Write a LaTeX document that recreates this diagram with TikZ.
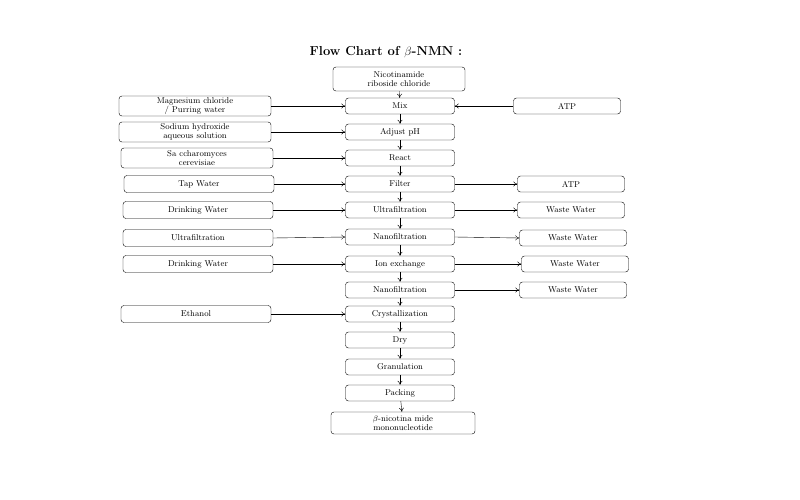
\documentclass[tikz,border=0pt]{standalone}
\usepackage{tikz}
\usetikzlibrary{arrows.meta}
\tikzset{
  stepbox/.style={draw, rounded corners=3pt, minimum width=109pt, minimum height=16pt, inner sep=1pt, align=center, font=\fontsize{8.5}{8.5}\selectfont},
  sidebox/.style={stepbox, minimum width=152pt, minimum height=20pt},
  outbox/.style={stepbox, minimum width=107pt},
  flow/.style={-{To[length=4pt, width=5pt]}, thin}
}
\begin{document}
\begin{tikzpicture}[x=1pt, y=-1pt]
                \useasboundingbox (0, 0) rectangle (800, 500);
                \node [font=\bfseries\fontsize{13}{13}\selectfont] (title) at (386, 52) {Flow Chart of $\beta$-NMN :};
                % main column
                \node [stepbox, minimum width=132pt, minimum height=24pt] (nrc) at (399, 79) {Nicotinamide\\ riboside chloride};
                \node [stepbox] (mix) at (400, 106) {Mix};
                \node [stepbox] (ph) at (400, 132) {Adjust pH};
                \node [stepbox] (react) at (400, 158) {React};
                \node [stepbox] (filter) at (400, 184) {Filter};
                \node [stepbox] (uf) at (400, 210) {Ultrafiltration};
                \node [stepbox] (nf1) at (400, 237) {Nanofiltration};
                \node [stepbox] (ion) at (400, 264) {Ion exchange};
                \node [stepbox] (nf2) at (400, 290) {Nanofiltration};
                \node [stepbox] (cryst) at (400, 314) {Crystallization};
                \node [stepbox] (dry) at (400, 340) {Dry};
                \node [stepbox] (gran) at (400, 367) {Granulation};
                \node [stepbox] (pack) at (400, 393) {Packing};
                \node [stepbox, minimum width=144pt, minimum height=22pt] (nmn) at (403, 423) {$\beta$-nicotina mide\\ mononucleotide};
                % inputs on the left
                \node [sidebox] (mgcl) at (195, 106) {Magnesium chloride\\ / Purring water};
                \node [sidebox] (naoh) at (195, 132) {Sodium hydroxide\\ aqueous solution};
                \node [sidebox] (yeast) at (197, 158) {Sa ccharomyces\\ cerevisiae};
                \node [sidebox, minimum width=150pt, minimum height=17pt] (tap) at (199, 184) {Tap Water};
                \node [sidebox, minimum width=150pt, minimum height=17pt] (dw1) at (198, 210) {Drinking Water};
                \node [sidebox, minimum width=150pt, minimum height=17pt] (ufin) at (198, 238) {Ultrafiltration};
                \node [sidebox, minimum width=150pt, minimum height=17pt] (dw2) at (198, 264) {Drinking Water};
                \node [sidebox, minimum width=150pt, minimum height=17pt] (eth) at (196, 314) {Ethanol};
                % outputs on the right
                \node [outbox] (atp1) at (567, 106) {ATP};
                \node [outbox] (atp2) at (571, 184) {ATP};
                \node [outbox] (ww1) at (571, 210) {Waste Water};
                \node [outbox] (ww2) at (573, 238) {Waste Water};
                \node [outbox] (ww3) at (575, 264) {Waste Water};
                \node [outbox] (ww4) at (573, 290) {Waste Water};
                % connectors
                \draw [flow] (nrc) -- (mix);
                \draw [flow] (mix) -- (ph);
                \draw [flow] (ph) -- (react);
                \draw [flow] (react) -- (filter);
                \draw [flow] (filter) -- (uf);
                \draw [flow] (uf) -- (nf1);
                \draw [flow] (nf1) -- (ion);
                \draw [flow] (ion) -- (nf2);
                \draw [flow] (nf2) -- (cryst);
                \draw [flow] (cryst) -- (dry);
                \draw [flow] (dry) -- (gran);
                \draw [flow] (gran) -- (pack);
                \draw [flow] (pack) -- (nmn);
                \draw [flow] (mgcl) -- (mix);
                \draw [flow] (naoh) -- (ph);
                \draw [flow] (yeast) -- (react);
                \draw [flow] (tap) -- (filter);
                \draw [flow] (dw1) -- (uf);
                \draw [flow] (ufin.east) -- (nf1.west);
                \draw [flow] (dw2) -- (ion);
                \draw [flow] (eth) -- (cryst);
                \draw [flow] (atp1) -- (mix);
                \draw [flow] (filter) -- (atp2);
                \draw [flow] (uf) -- (ww1);
                \draw [flow] (nf1.east) -- (ww2.west);
                \draw [flow] (ion) -- (ww3);
                \draw [flow] (nf2) -- (ww4);
\end{tikzpicture}
\end{document}
